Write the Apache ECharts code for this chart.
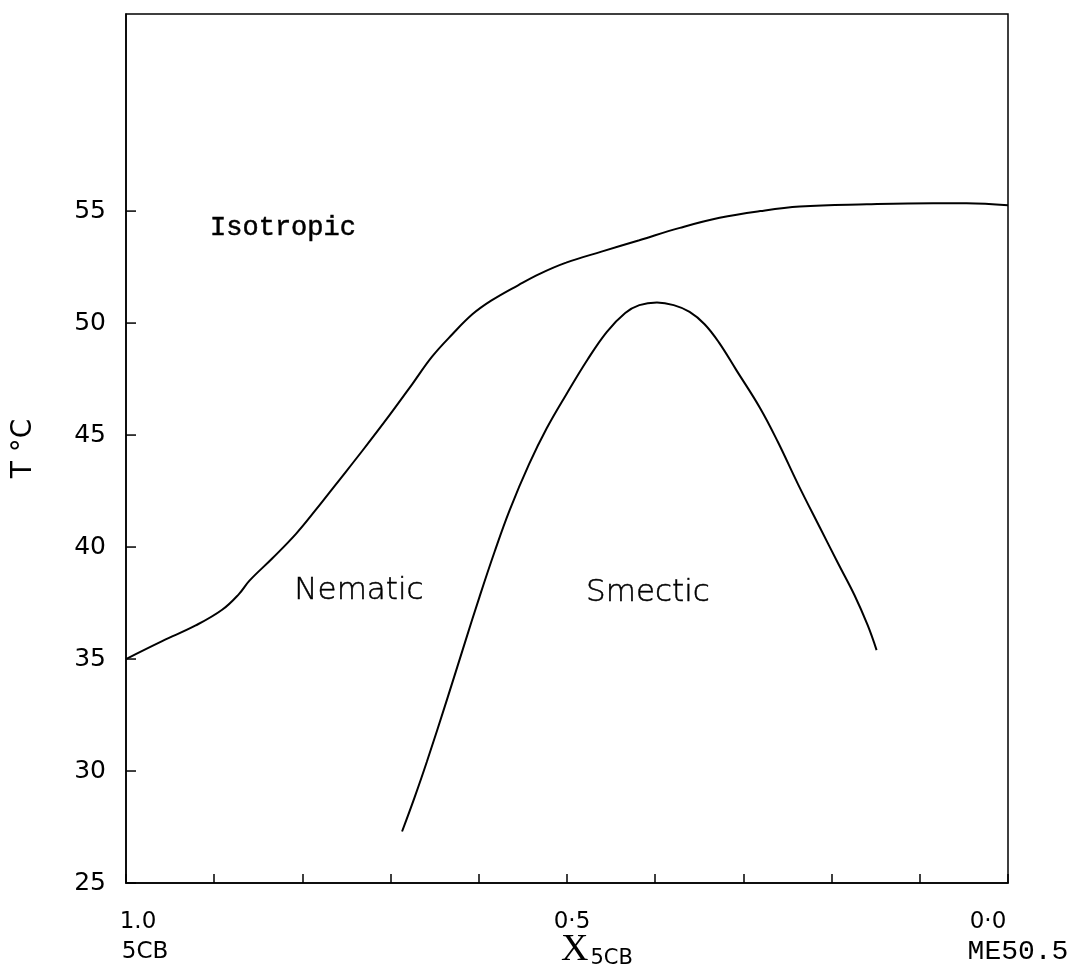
<!DOCTYPE html>
<html>
<head>
<meta charset="utf-8">
<script src="https://cdn.jsdelivr.net/npm/echarts@6/dist/echarts.min.js"></script>
<style>
html,body{margin:0;padding:0;background:#fff;}
#chart{width:1077px;height:976px;}
</style>
</head>
<body>
<div id="chart"></div>
<script>
// ---- data ----
// Isotropic / Nematic boundary
const isoX = [1.0, 0.959, 0.921, 0.891, 0.872, 0.860, 0.834, 0.807, 0.784, 0.762, 0.732, 0.701, 0.675, 0.653, 0.630, 0.607, 0.586, 0.555, 0.531, 0.501, 0.460, 0.418, 0.372, 0.327, 0.281, 0.236, 0.160, 0.085, 0.047, 0.0];
const isoT = [35.0, 35.8, 36.5, 37.2, 37.9, 38.5, 39.5, 40.6, 41.7, 42.8, 44.3, 45.9, 47.3, 48.5, 49.5, 50.4, 51.0, 51.7, 52.2, 52.7, 53.2, 53.7, 54.25, 54.7, 55.0, 55.2, 55.3, 55.35, 55.35, 55.26];
// Nematic / Smectic boundary
const smX = [0.687, 0.673, 0.659, 0.636, 0.616, 0.599, 0.582, 0.565, 0.543, 0.523, 0.501, 0.477, 0.455, 0.434, 0.418, 0.398, 0.379, 0.361, 0.344, 0.328, 0.308, 0.281, 0.261, 0.238, 0.213, 0.193, 0.174, 0.159, 0.149];
const smT = [27.3, 28.8, 30.4, 33.2, 35.7, 37.8, 39.8, 41.65, 43.7, 45.3, 46.8, 48.35, 49.6, 50.45, 50.8, 50.92, 50.8, 50.5, 49.95, 49.15, 47.9, 46.2, 44.7, 42.8, 40.85, 39.3, 37.85, 36.5, 35.4];

const xTicks = [0, 0.1, 0.2, 0.3, 0.4, 0.5, 0.6, 0.7, 0.8, 0.9, 1.0];
const xLabelValues = [1.0, 0.5, 0.0];
const xLabelTexts = ['1.0', '0·5', '0·0'];
const xEndNames = ['5CB', '', 'ME50.5'];
const yTicks = [25, 30, 35, 40, 45, 50, 55];
const regionNames = ['Isotropic', 'Nematic', 'Smectic'];

const X_MIN = 0, X_MAX = 1, Y_MIN = 25, Y_MAX = 63.8;
const pair = (xs, ys) => xs.map((x, i) => [x, ys[i]]);
const SANS = '"DejaVu Sans"';

function xFormatter(v) {
  const i = xLabelValues.findIndex(t => Math.abs(t - v) < 1e-6);
  if (i < 0) return '';
  if (i === 0) return '{s1| }{v|' + xLabelTexts[0] + '}\n{s2| }{n|' + xEndNames[0] + '}';
  if (i === 1) return '{s3| }{v|' + xLabelTexts[1] + '}';
  return '{v|' + xLabelTexts[2] + '}{s4| }\n{s5| }{m|' + xEndNames[2] + '}';
}

const chart = echarts.init(document.getElementById('chart'), null, {renderer: 'canvas'});
chart.setOption({
  animation: false,
  backgroundColor: '#fff',
  grid: {left: 126, right: 69, top: 14, bottom: 93, outerBoundsMode: 'none', containLabel: false,
         show: true, borderColor: '#000', borderWidth: 1.5, backgroundColor: 'transparent'},
  xAxis: {
    type: 'value', inverse: true, min: X_MIN, max: X_MAX,
    axisLine: {show: true, onZero: false, lineStyle: {color: '#000', width: 1.5}},
    axisTick: {show: true, inside: true, length: 9, customValues: xTicks, lineStyle: {color: '#000', width: 1.5}},
    axisLabel: {
      customValues: xLabelValues, formatter: xFormatter, margin: 24, color: '#000',
      rich: {
        v: {fontFamily: SANS, fontSize: 23, lineHeight: 30, color: '#000'},
        n: {fontFamily: SANS, fontSize: 23, lineHeight: 30, color: '#000'},
        m: {fontFamily: '"Liberation Mono"', fontSize: 28, lineHeight: 30, color: '#000'},
        s1: {width: 24, fontSize: 10}, s2: {width: 38, fontSize: 10},
        s3: {width: 10, fontSize: 10}, s4: {width: 40, fontSize: 10}, s5: {width: 20, fontSize: 10}
      }
    },
    splitLine: {show: false},
    name: '{x|X}{sub|5CB}', nameLocation: 'middle', nameGap: 50, nameMoveOverlap: false,
    nameTextStyle: {
      padding: [0, 0, 0, 60],
      rich: {
        x: {fontFamily: '"Liberation Serif"', fontSize: 38, color: '#000', verticalAlign: 'bottom', lineHeight: 36},
        sub: {fontFamily: SANS, fontSize: 21, color: '#000', verticalAlign: 'bottom', lineHeight: 20, padding: [12, 0, 0, 2]}
      }
    }
  },
  yAxis: {
    type: 'value', min: Y_MIN, max: Y_MAX, position: 'left',
    axisLine: {show: true, onZero: false, lineStyle: {color: '#000', width: 1.5}},
    axisTick: {show: false},
    axisLabel: {customValues: yTicks, margin: 20, color: '#000', fontFamily: SANS, fontSize: 25},
    splitLine: {show: false},
    name: 'T °C', nameLocation: 'middle', nameGap: 88,
    nameTextStyle: {fontFamily: SANS, fontSize: 28, color: '#000'}
  },
  series: [
    {type: 'line', data: pair(isoX, isoT), showSymbol: false, smooth: 0.4, lineStyle: {color: '#000', width: 2}, silent: true},
    {type: 'line', data: pair(smX, smT), showSymbol: false, smooth: 0.4, lineStyle: {color: '#000', width: 2}, silent: true},
    {
      // inward tick marks of the temperature axis, placed through the axis scale
      type: 'custom', silent: true, clip: false,
      data: yTicks.map(t => [X_MAX, t]),
      renderItem: function (params, api) {
        const p = api.coord([api.value(0), api.value(1)]);
        return {type: 'line', shape: {x1: p[0], y1: p[1], x2: p[0] + 10, y2: p[1]},
                style: {stroke: '#000', lineWidth: 1.5}};
      }
    }
  ],
  graphic: [
    {type: 'text', x: 283, y: 228, style: {text: regionNames[0], fontFamily: '"Liberation Mono"', fontSize: 27, fill: '#000', stroke: '#000', lineWidth: 0.5, align: 'center', verticalAlign: 'middle'}},
    {type: 'text', x: 359, y: 591, style: {text: regionNames[1], fontFamily: SANS, fontSize: 31, fontWeight: 200, fill: '#000', stroke: '#000', lineWidth: 0.5, align: 'center', verticalAlign: 'middle'}},
    {type: 'text', x: 648, y: 593, style: {text: regionNames[2], fontFamily: SANS, fontSize: 31, fontWeight: 200, fill: '#000', stroke: '#000', lineWidth: 0.5, align: 'center', verticalAlign: 'middle'}}
  ]
});
</script>
</body>
</html>
